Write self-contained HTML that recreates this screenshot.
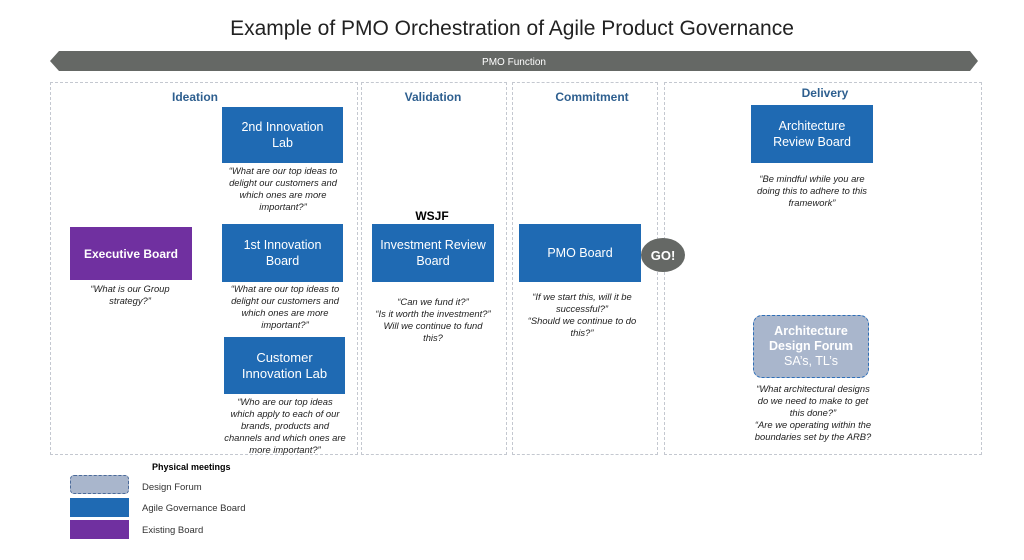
<!DOCTYPE html>
<html><head><meta charset="utf-8"><style>
body{margin:0;width:1024px;height:560px;background:#fff;position:relative;overflow:hidden;font-family:"Liberation Sans",sans-serif}
.a{position:absolute}
.t{position:absolute;left:0;width:1024px;top:17px;text-align:center;font-size:21px;color:#222}
.p{position:absolute;border:1px dashed #c4c8d0;box-sizing:border-box}
.h{position:absolute;font-size:12px;font-weight:bold;color:#2e5f8f;text-align:center}
.b{position:absolute;background:#1f6ab3;color:#fff;display:flex;align-items:center;justify-content:center;text-align:center;font-size:12.5px;line-height:16px;box-sizing:border-box}
.q{position:absolute;font-style:italic;font-size:9.4px;line-height:12px;text-align:center;color:#222;white-space:nowrap}
.lg{position:absolute;left:142px;font-size:9.5px;color:#333}
</style></head><body>
<div class="t">Example of PMO Orchestration of Agile Product Governance</div>
<svg class="a" style="left:0;top:0" width="1024" height="80"><polygon points="50,61 59,51 970,51 978,61 970,71 59,71" fill="#656865"/><text x="514" y="65" font-size="10" fill="#fff" text-anchor="middle" font-family="Liberation Sans">PMO Function</text></svg>
<div class="p" style="left:50px;top:82px;width:308px;height:373px"></div>
<div class="p" style="left:361px;top:82px;width:146px;height:373px"></div>
<div class="p" style="left:512px;top:82px;width:146px;height:373px"></div>
<div class="p" style="left:664px;top:82px;width:318px;height:373px"></div>
<div class="h" style="left:145px;top:90px;width:100px">Ideation</div>
<div class="h" style="left:383px;top:90px;width:100px">Validation</div>
<div class="h" style="left:542px;top:90px;width:100px">Commitment</div>
<div class="h" style="left:775px;top:86px;width:100px">Delivery</div>
<div class="b" style="left:222px;top:107px;width:121px;height:56px">2nd Innovation<br>Lab</div>
<div class="q" style="left:218px;top:165px;width:130px">“What are our top ideas to<br>delight our customers and<br>which ones are more<br>important?”</div>
<div class="b" style="left:70px;top:227px;width:122px;height:53px;background:#7030a0;font-weight:bold;font-size:12px">Executive Board</div>
<div class="q" style="left:75px;top:283px;width:110px">“What is our Group<br>strategy?”</div>
<div class="b" style="left:222px;top:224px;width:121px;height:58px">1st Innovation<br>Board</div>
<div class="q" style="left:222px;top:283px;width:126px">“What are our top ideas to<br>delight our customers and<br>which ones are more<br>important?”</div>
<div class="b" style="left:224px;top:337px;width:121px;height:57px;font-size:13px">Customer<br>Innovation Lab</div>
<div class="q" style="left:222px;top:396px;width:126px">“Who are our top ideas<br>which apply to each of our<br>brands, products and<br>channels and which ones are<br>more important?”</div>
<div class="a" style="left:382px;top:209px;width:100px;text-align:center;font-size:12px;font-weight:bold">WSJF</div>
<div class="b" style="left:372px;top:224px;width:122px;height:58px">Investment Review<br>Board</div>
<div class="q" style="left:370px;top:296px;width:126px">“Can we fund it?”<br>“Is it worth the investment?”<br>Will we continue to fund<br>this?</div>
<div class="b" style="left:519px;top:224px;width:122px;height:58px">PMO Board</div>
<div class="q" style="left:520px;top:291px;width:124px">“If we start this, will it be<br>successful?”<br>“Should we continue to do<br>this?”</div>
<div class="a" style="left:641px;top:238px;width:44px;height:34px;border-radius:50%;background:#656865;color:#fff;font-weight:bold;font-size:13px;display:flex;align-items:center;justify-content:center">GO!</div>
<div class="b" style="left:751px;top:105px;width:122px;height:58px">Architecture<br>Review Board</div>
<div class="q" style="left:748px;top:173px;width:128px">“Be mindful while you are<br>doing this to adhere to this<br>framework”</div>
<div class="b" style="left:753px;top:315px;width:116px;height:63px;background:#a9b6cc;border:1px dashed #2e6fb8;border-radius:9px;line-height:15px"><span><b>Architecture<br>Design Forum</b><br>SA’s, TL’s</span></div>
<div class="q" style="left:740px;top:383px;width:146px">“What architectural designs<br>do we need to make to get<br>this done?”<br>“Are we operating within the<br>boundaries set by the ARB?</div>
<div class="a" style="left:152px;top:462px;font-size:9px;font-weight:bold">Physical meetings</div>
<div class="a" style="left:70px;top:475px;width:59px;height:19px;background:#a9b6cc;border:1px dashed #4a6a9a;border-radius:4px;box-sizing:border-box"></div>
<div class="a" style="left:70px;top:498px;width:59px;height:19px;background:#1f6ab3"></div>
<div class="a" style="left:70px;top:520px;width:59px;height:19px;background:#7030a0"></div>
<div class="lg" style="top:482px">Design Forum</div>
<div class="lg" style="top:503px">Agile Governance Board</div>
<div class="lg" style="top:525px">Existing Board</div>
</body></html>
